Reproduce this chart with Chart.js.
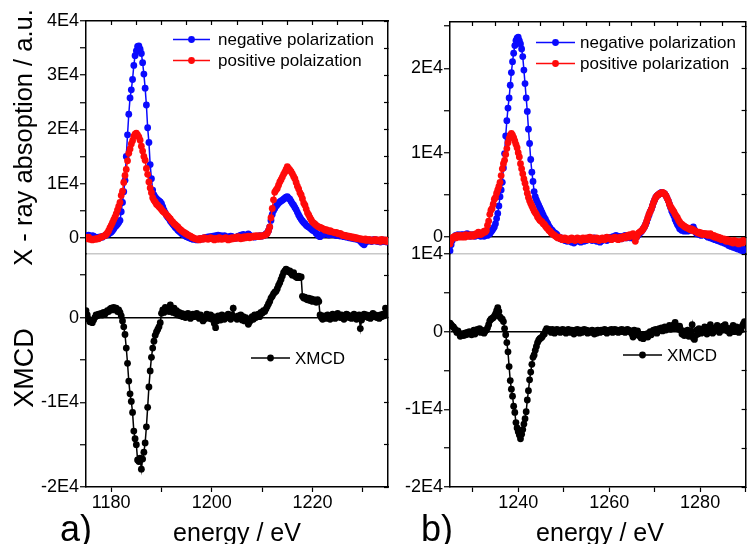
<!DOCTYPE html>
<html>
<head>
<meta charset="utf-8">
<script src="https://cdn.jsdelivr.net/npm/chart.js@4.4.1/dist/chart.umd.min.js"></script>
<style>
  html, body { margin: 0; padding: 0; background: #fff; }
  #wrap { position: relative; width: 749px; height: 544px; overflow: hidden; background: #fff; }
  #wrap canvas { position: absolute; left: 0; top: 0; }
</style>
</head>
<body>
<div id="wrap">
  <canvas id="cA1" width="749" height="544"></canvas>
  <canvas id="cA2" width="749" height="544"></canvas>
  <canvas id="cB1" width="749" height="544"></canvas>
  <canvas id="cB2" width="749" height="544"></canvas>
</div>
<script>
// ---- energy grids (eV), sampled every 0.25 eV ----
const E_STEP = 0.25;
const E0_A = 1175;   // panel a) starts here
const E0_B = 1225;   // panel b) starts here

// ---- tick positions ----
const xTicksA = [1180, 1190, 1200, 1210, 1220, 1230];
const xTicksB = [1230, 1240, 1250, 1260, 1270, 1280, 1290];
const xTopTicksA = [1180, 1185, 1190, 1195, 1200, 1205, 1210, 1215, 1220, 1225, 1230];
const xTopTicksB = [1230, 1235, 1240, 1245, 1250, 1255, 1260, 1265, 1270, 1275, 1280, 1285];
const yTicksA1 = [0, 5000, 10000, 15000, 20000, 25000, 30000, 35000, 40000];
const yTicksA2 = [-20000, -15000, -10000, -5000, 0, 5000];
const yTicksB1 = [0, 5000, 10000, 15000, 20000, 25000];
const yTicksB2 = [-20000, -15000, -10000, -5000, 0, 5000, 10000];

// ---- panel a): absorption for negative / positive polarization (a.u.), one line per eV ----
const negA = [
  400, 300, 500, 300,
  200, 400, 300, 100,
  0, -100, 100, 0,
  200, 100, 300, 400,
  500, 600, 700, 900,
  1000, 1300, 1600, 2000,
  2200, 2500, 2800, 3200,
  4800, 6500, 8500, 10600,
  15000, 19000, 22800, 25800,
  27300, 29200, 31800, 33600,
  34500, 35300, 35400, 34800,
  34000, 32300, 30200, 27600,
  24500, 20300, 17600, 13500,
  10900, 8800, 7900, 7500,
  7200, 7000, 6800, 6600,
  6300, 5700, 5100, 4600,
  4100, 3800, 3500, 3100,
  2800, 2500, 2200, 1900,
  1700, 1400, 1200, 1000,
  800, 600, 500, 300,
  200, 100, 0, -100,
  -200, -300, -200, -300,
  -400, -300, -200, -300,
  -100, -200, 0, -100,
  100, 0, 200, 100,
  200, 300, 100, 400,
  300, 500, 200, 400,
  300, 200, 400, 100,
  200, 0, 100, 300,
  200, 100, 0, -100,
  100, 300, 200, 500,
  400, 600, 300, 200,
  400, 700, 500, 300,
  200, 300, 100, 200,
  300, 200, 400, 300,
  300, 400, 500, 700,
  900, 1300, 2000, 3200,
  4300, 5000, 5400, 5800,
  6100, 6400, 6600, 6800,
  6900, 7100, 7300, 7500,
  7600, 7300, 7100, 6700,
  6300, 6000, 5600, 5200,
  4700, 4200, 3800, 3400,
  3100, 2800, 2600, 2300,
  2100, 2000, 1800, 1600,
  1400, 1300, 1100, 800,
  600, 300, 200, 500,
  800, 600, 700, 900,
  700, 500, 600, 800,
  600, 700, 500, 400,
  600, 400, 300, 500,
  300, 200, 400, 100,
  200, 0, 100, -100,
  0, -200, -100, -300,
  -200, -400, -600, -900,
  -1100, -1300, -900, -700,
  -500, -600, -400, -700,
  -500, -300, -600, -400,
  -700, -500, -800, -600,
  -400, -700, -500, -800,
  -600
];
const posA = [
  0, -200, 100, -300,
  -200, -400, -300, -200,
  -300, -100, -200, 0,
  100, 200, 300, 400,
  600, 900, 1300, 1800,
  2300, 2800, 3300, 3800,
  4400, 5100, 5800, 6500,
  7800, 8600, 10200, 11500,
  12600, 14200, 15600, 16400,
  17300, 17900, 18700, 19100,
  19300, 19000, 18600, 18000,
  16900, 16000, 15000, 14300,
  12800, 11700, 10300, 9200,
  8300, 7400, 6900, 6600,
  6200, 6000, 5700, 5500,
  5200, 4900, 4700, 4500,
  4200, 4000, 3700, 3500,
  3100, 2900, 2600, 2400,
  2200, 2000, 1700, 1500,
  1300, 1100, 1000, 800,
  700, 500, 400, 300,
  100, 0, -100, -200,
  -300, -200, -400, -100,
  -200, -300, 0, -200,
  -100, -300, -100, 0,
  -200, -100, -400, -200,
  -100, -300, 0, -200,
  -300, -100, -200, 0,
  -200, -400, -100, -300,
  0, -200, -100, 100,
  -100, 200, 0, -200,
  100, -100, 200, 0,
  100, 300, 0, 200,
  100, 300, 200, 400,
  300, 200, 400, 300,
  300, 400, 500, 600,
  800, 1300, 2000, 3700,
  5400, 7000, 8400, 8800,
  9100, 9700, 10300, 10700,
  11200, 11700, 12100, 12600,
  13100, 12800, 12500, 12200,
  11800, 11300, 10900, 10200,
  9500, 9000, 8300, 7900,
  7200, 6400, 6000, 5300,
  4600, 4200, 3700, 3300,
  2900, 2700, 2500, 2300,
  2100, 2000, 1900, 1800,
  1700, 1600, 1400, 1500,
  1300, 1200, 1300, 1100,
  1100, 1000, 900, 1000,
  800, 700, 800, 600,
  400, 500, 300, 400,
  200, 300, 100, 200,
  0, 100, -100, 0,
  -200, -100, -300, -200,
  -300, -400, -200, -500,
  -400, -300, -500, -600,
  -400, -500, -300, -600,
  -500, -400, -700, -300,
  -500, -600, -400, -700,
  -500
];
// ---- panel a): XMCD difference signal ----
const xmcdA = [
  800, 300, -200, -500,
  -400, -600, -300, 0,
  300, 200, 400, 300,
  500, 300, 600, 400,
  600, 800, 700, 1000,
  1100, 900, 1200, 1000,
  1100, 700, 900, 600,
  200, -400, -1100, -2000,
  -3600, -5400, -7500, -9000,
  -9900, -11200, -13400, -14300,
  -15000, -16800, -17000, -16600,
  -17900, -16700, -15900, -14800,
  -12900, -10600, -8200, -6300,
  -4700, -3600, -2800, -2100,
  -1700, -1400, -1100, -600,
  500, 900, 600, 1200,
  800, 1000, 700, 1500,
  900, 600, 1100, 500,
  800, 300, 600, 200,
  500, 100, 400, 0,
  300, 500, 200, -100,
  200, 400, 100, 300,
  500, 200, -100, 300,
  0, -400, -200, 100,
  400, 200, -100, 300,
  -200, 100, -700, -1200,
  -400, 200, 0, -300,
  300, 100, -200, 200,
  0, 400, 100, -200,
  300, 1100, 100, 0,
  -200, 200, 0, 300,
  -300, 100, -400, 0,
  -200, -800, -500, -300,
  100, -200, 300, 0,
  200, 400, 100, 600,
  500, 800, 700, 1000,
  1300, 1600, 1900, 2300,
  2500, 2800, 3000, 3100,
  3400, 3800, 4100, 4500,
  4900, 5300, 5500, 5700,
  5600, 5400, 5500, 5200,
  5000, 5300, 4900, 4800,
  4700, 4900, 4700, 4800,
  2500, 2300, 2400, 2200,
  2100, 2300, 2000, 2200,
  1900, 2100, 2000, 1800,
  2100, 1900, 300, 0,
  -200, 200, 100, -100,
  300, 0, -200, 200,
  400, 100, -100, 300,
  500, 200, 0, 300,
  100, -200, 200, 400,
  300, 0, 200, -100,
  200, 400, 100, -200,
  0, 300, -1300, -300,
  200, 400, 100, 300,
  0, 200, -100, 300,
  500, 100, 300, 0,
  200, -100, 300, 100,
  400, 200, 1100, 600,
  900
];

// ---- panel b): absorption for negative / positive polarization (a.u.) ----
const negB = [
  -1600, -900, -400, -100,
  0, 200, 100, 300,
  200, 100, 300, 200,
  300, 100, 200, 400,
  200, 300, 100, 200,
  300, 200, 100, 300,
  200, 400, 300, 100,
  200, 300, 100, 200,
  300, 200, 400, 400,
  600, 800, 1000, 1200,
  1600, 2200, 2800, 3700,
  4800, 5600, 6500, 8200,
  9900, 12000, 13800, 15300,
  16500, 18000, 19500, 20800,
  21800, 22700, 23300, 23600,
  23700, 23300, 22900, 22300,
  21400, 19800, 18200, 16500,
  14900, 12800, 11100, 9200,
  7700, 6600, 5400, 4800,
  4400, 4100, 3800, 3500,
  3200, 2900, 2600, 2300,
  2100, 1800, 1600, 1300,
  1100, 900, 800, 600,
  500, 400, 300, 100,
  0, -200, -100, -300,
  -300, -400, -300, -500,
  -400, -300, -500, -600,
  -400, -700, -500, -300,
  -400, -500, -300, -600,
  -400, -200, -500, -300,
  -400, -300, -100, -300,
  -200, -400, -300, -100,
  -300, -500, -200, -400,
  -600, -300, -400, -200,
  -300, -100, -400, -200,
  -100, -300, 0, -200,
  100, -100, 200, 0,
  -100, 100, 0, -200,
  100, 0, 200, -100,
  0, 200, 100, -100,
  100, 0, -200, 100,
  0, 200, 300, 500,
  600, 800, 1000, 1200,
  1500, 1800, 2200, 2600,
  3000, 3300, 3700, 4100,
  4400, 4700, 4900, 5000,
  5100, 5200, 5300, 5200,
  5200, 5100, 4900, 4600,
  4300, 3900, 3500, 3100,
  2800, 2500, 2100, 1800,
  1500, 1300, 1000, 900,
  800, 900, 700, 800,
  900, 700, 800, 1000,
  800, 1000, 1200, 900,
  600, 400, 500, 300,
  400, 200, 300, 400,
  300, 200, 100, 0,
  100, -100, 0, -200,
  -100, -300, -200, -400,
  -300, -500, -400, -600,
  -400, -700, -500, -800,
  -700, -1000, -800, -1100,
  -900, -1200, -1000, -1300,
  -1100, -1400, -1200, -1500,
  -1300, -1600, -1400, -1700,
  -1600
];
const posB = [
  -800, -400, -100, 0,
  100, -100, 200, 0,
  100, 200, 0, 100,
  200, 0, 300, 100,
  200, 100, 300, 200,
  100, 300, 200, 400,
  300, 600, 500, 300,
  400, 500, 700, 600,
  800, 1400, 1900, 2700,
  3200, 3400, 3900, 4500,
  4700, 5200, 5600, 6000,
  6500, 7300, 8100, 8700,
  9100, 9800, 10500, 11200,
  11700, 12100, 12300, 12100,
  11800, 11400, 11000, 10600,
  10000, 9500, 8700, 8100,
  7500, 6900, 6400, 5800,
  5200, 4700, 4300, 4000,
  3700, 3400, 3100, 2900,
  2700, 2400, 2200, 2000,
  1900, 1800, 1600, 1500,
  1300, 1100, 1000, 800,
  700, 500, 400, 300,
  200, 100, 0, -100,
  0, -200, -100, -300,
  -200, -100, -300, -200,
  -400, -200, -300, -100,
  -300, -200, -400, -300,
  -100, -300, -200, -400,
  -200, -100, -300, -200,
  -100, -300, -200, 0,
  -200, -300, -100, -200,
  -300, -100, -200, -400,
  -200, -300, -100, -200,
  -300, -200, 0, -100,
  -200, -100, -300, -200,
  -100, 0, -200, -100,
  -300, -100, 0, -200,
  0, 100, -100, 100,
  200, 0, 300, 100,
  200, 400, 100, -500,
  0, 300, 500, 600,
  700, 800, 1000, 1200,
  1500, 1900, 2300, 2700,
  3000, 3300, 3700, 4100,
  4400, 4700, 4900, 5000,
  5100, 5200, 5200, 5300,
  5200, 5100, 4900, 4600,
  4300, 3900, 3600, 3400,
  3200, 3000, 2700, 2500,
  2300, 2000, 1800, 1600,
  1500, 1400, 1300, 1200,
  1100, 1100, 1000, 900,
  1000, 800, 900, 700,
  700, 600, 500, 600,
  400, 500, 300, 400,
  400, 300, 400, 200,
  300, 400, 200, 100,
  200, 0, 100, -100,
  0, -200, -100, -300,
  -300, -200, -400, -500,
  -300, -500, -400, -600,
  -500, -700, -400, -600,
  -700, -500, -800, -600,
  -500, -700, -400, -600,
  -500
];
// ---- panel b): XMCD difference signal ----
const xmcdB = [
  1100, 900, 700, 600,
  400, 200, -100, 100,
  -200, -600, -400, -300,
  -500, -200, -400, -100,
  -300, 0, -200, -400,
  -100, 200, -300, 0,
  300, 100, 400, -100,
  200, 0, -200, 100,
  200, 500, 900, 1400,
  1600, 1700, 1800, 2000,
  2300, 2700, 3100, 2600,
  1900, 1700, 1600, 1300,
  400, -400, -1400, -2600,
  -4500, -6300, -7400, -8300,
  -9600, -10400, -11700, -12400,
  -12900, -13300, -13800, -13200,
  -12600, -11900, -11200, -10300,
  -8800, -7600, -6200, -5200,
  -4200, -3300, -3000, -2400,
  -1900, -1400, -1100, -900,
  -800, -700, -400, -300,
  100, 400, 200, 300,
  200, -100, 300, 100,
  -200, 100, 300, 0,
  200, -100, 100, 300,
  0, 200, -200, 100,
  300, 0, -100, 200,
  100, -300, 200, 0,
  300, 100, -200, 200,
  -100, 100, 300, 0,
  200, -200, 100, 0,
  -100, 200, 0, -300,
  100, -200, 200, 0,
  -100, 200, 0, 100,
  300, 0, -200, 100,
  200, 0, 300, -100,
  100, 300, 0, 200,
  -100, 200, 100, 300,
  0, 200, -100, 100,
  300, 200, 0, 100,
  -300, -700, 200, -200,
  -400, 100, -300, -600,
  -800, -500, -900, -400,
  -600, -300, -700, -200,
  0, -400, -100, 200,
  0, 300, -200, 100,
  400, 200, 500, 100,
  300, 600, 200, 400,
  500, 800, 300, 600,
  400, 900, 1200, 700,
  500, 300, 700, 200,
  -300, 100, -500, 0,
  -400, 200, -600, -300,
  100, 900, -800, -1000,
  -500, 200, -300, 400,
  100, -200, 300, 0,
  600, 200, -300, 100,
  400, 900, 300, -200,
  0, 500, 200, 800,
  300, -100, 400, 200,
  700, 200, 900, 500,
  100, 400, -200, 300,
  500, 800, 0, 300,
  600, 200, -100, 400,
  200, 700, 1000, 1300,
  900
];

// ---- legend texts ----
const legendA = ['negative polarization', 'positive polaization'];
const legendB = ['negative polarization', 'positive polarization'];
const legendX = 'XMCD';

// ---- styling ----
const FONT = "'Liberation Sans', Arial, Helvetica, sans-serif";
const BLUE = '#0a0aff';
const RED = '#ff0a0a';
const BLACK = '#000000';
const TICK_FONT = 18;
Chart.defaults.font.family = FONT;
Chart.defaults.color = '#000';
Chart.defaults.animation = false;

const energyA = negA.map((_, i) => E0_A + i * E_STEP);
const energyB = negB.map((_, i) => E0_B + i * E_STEP);
const toPoints = (xs, ys) => ys.map((y, i) => ({ x: xs[i], y }));

// tick label for the y axes: 0, 1E4, -2E4 ...
const fmtE4 = v => (v === 0 ? '0' : (v % 10000 === 0 ? (v / 10000) + 'E4' : ''));
// energy labels every 20 eV, bare ticks in between
const fmtEnergy = v => (v % 20 === 0 ? String(v) : '');
// pin a scale's ticks to a fixed list of values
const fixTicks = vals => s => { s.ticks = vals.map(v => ({ value: v })); };

function series(label, xs, ys, color, order) {
  return {
    label, data: toPoints(xs, ys),
    borderColor: color, backgroundColor: color,
    borderWidth: 1.5, pointRadius: 3.4, pointHoverRadius: 3.4,
    pointBorderWidth: 0, tension: 0, order,
    xAxisID: 'x', yAxisID: 'y'
  };
}

// draws axis titles, panel letters and the small in-plot legends
const annotPlugin = {
  id: 'annot',
  afterDraw(chart, args, opts) {
    const ctx = chart.ctx;
    (opts.texts || []).forEach(t => {
      ctx.save();
      ctx.font = t.size + 'px ' + FONT;
      ctx.fillStyle = '#000';
      ctx.textAlign = t.align || 'left';
      ctx.textBaseline = 'alphabetic';
      if (t.rotate) {
        ctx.translate(t.x, t.y);
        ctx.rotate(-Math.PI / 2);
        ctx.fillText(t.text, 0, 0);
      } else {
        ctx.fillText(t.text, t.x, t.y);
      }
      ctx.restore();
    });
    (opts.legend || []).forEach(l => {
      const ds = chart.data.datasets[l.index];
      ctx.save();
      ctx.strokeStyle = ds.borderColor;
      ctx.fillStyle = ds.borderColor;
      ctx.lineWidth = 1.6;
      ctx.beginPath();
      ctx.moveTo(l.x0, l.y);
      ctx.lineTo(l.x1, l.y);
      ctx.stroke();
      ctx.beginPath();
      ctx.arc((l.x0 + l.x1) / 2, l.y, 3.4, 0, Math.PI * 2);
      ctx.fill();
      ctx.font = '17px ' + FONT;
      ctx.fillStyle = '#000';
      ctx.textAlign = 'left';
      ctx.textBaseline = 'alphabetic';
      ctx.fillText(ds.label, l.tx, l.y + 5.5);
      ctx.restore();
    });
  }
};

function makePanel(id, p) {
  const upper = p.upper;
  const scales = {
    x: {
      type: 'linear', position: 'bottom', min: p.xMin, max: p.xMax,
      afterBuildTicks: fixTicks(p.xTicks),
      afterFit: s => { s.height = upper ? 0 : 57; },
      border: { display: true, color: upper ? '#c8c8c8' : BLACK, width: 1.5 },
      grid: { drawOnChartArea: false, drawTicks: !upper, tickLength: 5, tickColor: BLACK, tickWidth: 1.2 },
      ticks: {
        display: !upper, autoSkip: false, maxRotation: 0,
        padding: 0, font: { size: TICK_FONT }, color: '#000', callback: fmtEnergy
      }
    },
    y: {
      type: 'linear', position: 'left', min: p.yMin, max: p.yMax,
      afterBuildTicks: fixTicks(p.yTicks),
      afterFit: s => { s.width = p.yW; },
      border: { display: true, color: BLACK, width: 1.5 },
      grid: {
        drawOnChartArea: true, lineWidth: 1.5,
        color: c => (c.tick && c.tick.value === 0 ? BLACK : 'rgba(0,0,0,0)'),
        tickColor: BLACK, tickLength: 6, tickWidth: 1.2
      },
      ticks: { autoSkip: false, padding: 1, font: { size: TICK_FONT }, color: '#000', callback: fmtE4 }
    },
    yR: {
      type: 'linear', position: 'right', min: p.yMin, max: p.yMax,
      afterBuildTicks: fixTicks(p.yTicks),
      afterFit: s => { s.width = 0; },
      border: { display: true, color: BLACK, width: 1.5 },
      grid: { drawOnChartArea: false, tickLength: -4, tickColor: BLACK, tickWidth: 1.2 },
      ticks: { display: false, autoSkip: false }
    }
  };
  if (upper) {
    scales.xTop = {
      type: 'linear', position: 'top', min: p.xMin, max: p.xMax,
      afterBuildTicks: fixTicks(p.xTopTicks),
      afterFit: s => { s.height = 0; },
      border: { display: true, color: BLACK, width: 1.5 },
      grid: { drawOnChartArea: false, tickLength: -4, tickColor: BLACK, tickWidth: 1.2 },
      ticks: { display: false, autoSkip: false }
    };
  }
  return new Chart(document.getElementById(id), {
    type: 'line',
    data: { datasets: p.datasets },
    plugins: [annotPlugin],
    options: {
      responsive: false, devicePixelRatio: 1, events: [],
      layout: { padding: p.pad },
      scales,
      plugins: {
        legend: { display: false }, tooltip: { enabled: false },
        annot: { texts: p.texts || [], legend: p.legend || [] }
      }
    }
  });
}

// panel a), absorption
makePanel('cA1', {
  upper: true, xMin: 1175, xMax: 1235, yMin: -3000, yMax: 40000, yW: 86,
  xTicks: xTicksA, xTopTicks: xTopTicksA, yTicks: yTicksA1,
  pad: { left: 0, top: 21, right: 361, bottom: 290 },
  datasets: [
    series(legendA[0], energyA, negA, BLUE, 1),
    series(legendA[1], energyA, posA, RED, 0)
  ],
  texts: [{ text: 'X - ray absoption / a.u.', size: 25.5, x: 31.5, y: 137.5, align: 'center', rotate: true }],
  legend: [
    { index: 0, x0: 173, x1: 210, y: 39.5, tx: 218 },
    { index: 1, x0: 173, x1: 210, y: 60.5, tx: 218 }
  ]
});
// panel a), XMCD
makePanel('cA2', {
  upper: false, xMin: 1175, xMax: 1235, yMin: -20000, yMax: 7500, yW: 86,
  xTicks: xTicksA, yTicks: yTicksA2,
  pad: { left: 0, top: 254, right: 361, bottom: 0 },
  datasets: [series(legendX, energyA, xmcdA, BLACK, 0)],
  texts: [
    { text: 'XMCD', size: 27, x: 33, y: 368, align: 'center', rotate: true },
    { text: 'energy / eV', size: 25, x: 237, y: 541, align: 'center' },
    { text: 'a)', size: 36, x: 60, y: 541 }
  ],
  legend: [{ index: 0, x0: 251, x1: 290, y: 358, tx: 295 }]
});
// panel b), absorption
makePanel('cB1', {
  upper: true, xMin: 1225, xMax: 1290, yMin: -2000, yMax: 25500, yW: 450,
  xTicks: xTicksB, xTopTicks: xTopTicksB, yTicks: yTicksB1,
  pad: { left: 0, top: 22, right: 1, bottom: 290 },
  datasets: [
    series(legendB[0], energyB, negB, BLUE, 1),
    series(legendB[1], energyB, posB, RED, 0)
  ],
  legend: [
    { index: 0, x0: 536, x1: 575, y: 42.5, tx: 580 },
    { index: 1, x0: 536, x1: 575, y: 63.5, tx: 580 }
  ]
});
// panel b), XMCD
makePanel('cB2', {
  upper: false, xMin: 1225, xMax: 1290, yMin: -20000, yMax: 10000, yW: 450,
  xTicks: xTicksB, yTicks: yTicksB2,
  pad: { left: 0, top: 254, right: 1, bottom: 0 },
  datasets: [series(legendX, energyB, xmcdB, BLACK, 0)],
  texts: [
    { text: 'energy / eV', size: 25, x: 600, y: 541, align: 'center' },
    { text: 'b)', size: 36, x: 421, y: 541 }
  ],
  legend: [{ index: 0, x0: 623, x1: 662, y: 355, tx: 667 }]
});
</script>
</body>
</html>
